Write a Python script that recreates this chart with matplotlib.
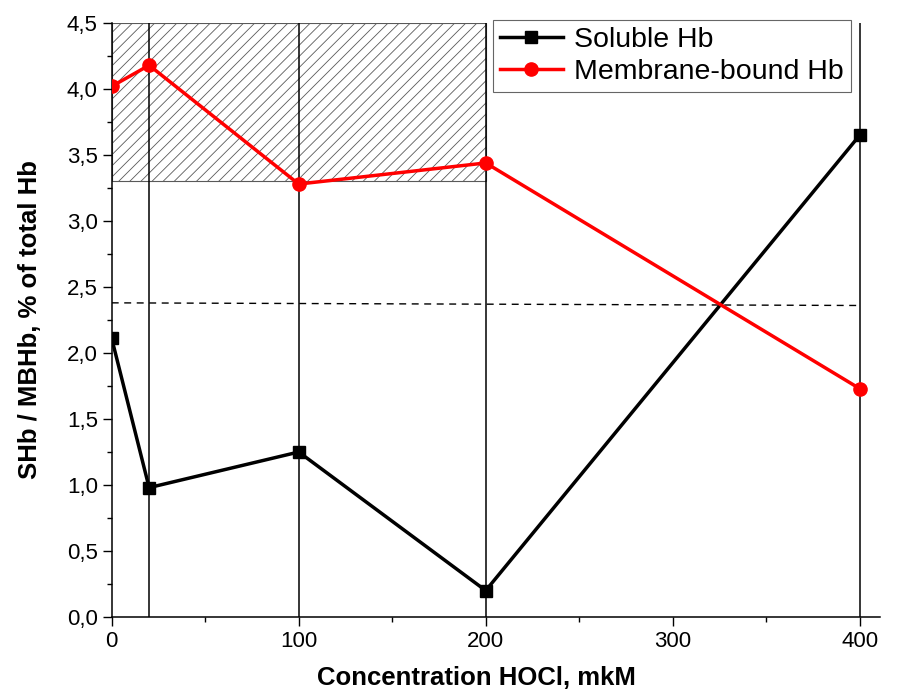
import numpy as np
import matplotlib
matplotlib.use('Agg')
import matplotlib.pyplot as plt
from matplotlib.patches import Rectangle
from matplotlib.ticker import MultipleLocator, FuncFormatter

plt.rcParams['font.family'] = ['Liberation Sans', 'DejaVu Sans']
plt.rcParams['hatch.linewidth'] = 0.6

# data
conc = [0, 20, 100, 200, 400]
soluble_hb = [2.11, 0.98, 1.25, 0.20, 3.65]
membrane_hb = [4.02, 4.18, 3.28, 3.44, 1.73]
mean_x = [0, 400]
mean_y = [2.38, 2.36]
vline_x = [20, 100, 200, 400]
norm_box = [0, 200, 3.3, 4.5]  # x0, x1, y0, y1

fig = plt.figure(figsize=(9.01, 7.0), dpi=100)
ax = fig.add_axes([0.124, 0.1186, 0.853, 0.8485])

# normal range box
ax.add_patch(Rectangle((norm_box[0], norm_box[2]), norm_box[1] - norm_box[0],
                       norm_box[3] - norm_box[2], facecolor='none',
                       edgecolor='0.35', linewidth=0.8, hatch='///', zorder=1))

for xv in vline_x:
    ax.plot([xv, xv], [0, 4.5], color='black', lw=1.1, zorder=2)

ax.plot(mean_x, mean_y, color='black', lw=1.0, ls=(0, (5, 4)), zorder=2)

ax.plot(conc, soluble_hb, color='black', lw=2.5, marker='s', markersize=8.5,
        label='Soluble Hb', zorder=4)
ax.plot(conc, membrane_hb, color='red', lw=2.5, marker='o', markersize=9.5,
        label='Membrane-bound Hb', zorder=4)

ax.set_xlim(0, 411)
ax.set_ylim(0, 4.5)
ax.xaxis.set_major_locator(MultipleLocator(100))
ax.xaxis.set_minor_locator(MultipleLocator(50))
ax.yaxis.set_major_locator(MultipleLocator(0.5))
ax.yaxis.set_minor_locator(MultipleLocator(0.25))
ax.yaxis.set_major_formatter(FuncFormatter(lambda v, p: ('%.1f' % v).replace('.', ',')))
ax.tick_params(which='major', direction='out', length=6.5, width=1.0, labelsize=16)
ax.tick_params(which='minor', direction='out', length=3.8, width=1.0)

for s in ['top', 'right']:
    ax.spines[s].set_visible(False)
for s in ['left', 'bottom']:
    ax.spines[s].set_linewidth(1.1)

ax.set_xlabel('Concentration HOCl, mkM', fontsize=18.5, fontweight='bold')
ax.xaxis.set_label_coords(0.474, -0.083)
ax.set_ylabel('SHb / MBHb, % of total Hb', fontsize=18.5, fontweight='bold', labelpad=18)

leg = ax.legend(loc='upper left', bbox_to_anchor=(0.547, 0.971),
                bbox_transform=fig.transFigure, fontsize=20.5, frameon=True,
                fancybox=False, edgecolor='0.4', framealpha=1, handlelength=2.2,
                borderpad=0.25, labelspacing=0.2, handletextpad=0.4,
                borderaxespad=0)
leg.get_frame().set_linewidth(0.8)

fig.savefig('out.png', dpi=100)
